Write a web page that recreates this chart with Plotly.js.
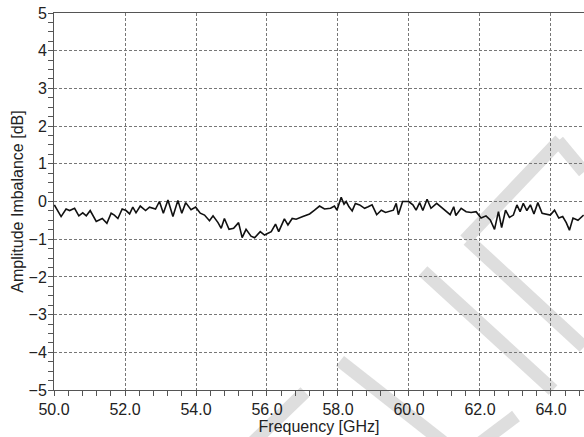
<!DOCTYPE html>
<html>
<head>
<meta charset="utf-8">
<script src="https://cdn.plot.ly/plotly-3.0.1.min.js"></script>
<style>html,body{margin:0;padding:0;background:#fff;}#chart{width:584px;height:437px;}</style>
</head>
<body>
<div id="chart"></div>
<script>
// Frequency (GHz) and amplitude imbalance (dB)
const freqGHz = [
  50.01,50.20,50.34,50.44,50.58,50.70,50.81,50.91,51.02,51.19,51.36,51.49,51.61,51.70,51.80,51.92,
  52.03,52.13,52.22,52.31,52.43,52.58,52.69,52.86,52.97,53.08,53.21,53.35,53.49,53.60,53.71,53.86,
  53.99,54.12,54.24,54.38,54.48,54.62,54.71,54.80,54.93,55.06,55.20,55.30,55.41,55.55,55.65,55.81,
  55.93,56.12,56.24,56.33,56.49,56.59,56.71,56.82,57.01,57.20,57.34,57.48,57.62,57.79,57.90,57.97,
  58.09,58.17,58.23,58.31,58.40,58.49,58.61,58.75,58.85,58.96,59.09,59.22,59.34,59.45,59.56,59.64,
  59.70,59.82,59.99,60.11,60.20,60.30,60.39,60.51,60.62,60.78,60.90,61.04,61.16,61.26,61.32,61.47,
  61.61,61.75,61.89,62.03,62.17,62.29,62.41,62.52,62.61,62.72,62.83,62.94,63.04,63.13,63.22,63.32,
  63.42,63.52,63.63,63.75,63.86,63.98,64.10,64.22,64.33,64.43,64.52,64.62,64.76,64.92
];
const imbalanceDB = [
  -0.09,-0.40,-0.20,-0.24,-0.18,-0.38,-0.30,-0.38,-0.24,-0.53,-0.45,-0.58,-0.31,-0.36,-0.45,-0.20,
  -0.24,-0.33,-0.15,-0.30,-0.12,-0.24,-0.15,-0.20,0.00,-0.31,0.04,-0.40,0.03,-0.31,-0.03,-0.22,
  -0.15,-0.31,-0.36,-0.51,-0.38,-0.56,-0.71,-0.45,-0.74,-0.71,-0.56,-0.96,-0.74,-0.92,-0.96,-0.80,
  -0.89,-0.80,-0.60,-0.80,-0.46,-0.62,-0.45,-0.47,-0.40,-0.33,-0.23,-0.12,-0.20,-0.18,-0.12,-0.23,
  0.11,-0.07,0.00,-0.14,-0.25,-0.05,-0.09,-0.18,-0.14,-0.09,-0.35,-0.23,-0.29,-0.27,-0.23,-0.05,
  -0.35,0.00,0.00,-0.09,-0.23,-0.03,-0.24,0.06,-0.18,-0.05,-0.14,-0.24,-0.35,-0.14,-0.37,-0.18,
  -0.27,-0.29,-0.27,-0.44,-0.38,-0.49,-0.74,-0.27,-0.69,-0.23,-0.42,-0.36,-0.09,-0.27,-0.05,-0.24,
  -0.09,-0.33,-0.03,-0.31,-0.33,-0.36,-0.23,-0.44,-0.40,-0.56,-0.76,-0.44,-0.50,-0.36
];
const xTitle = 'Frequency [GHz]';
const yTitle = 'Amplitude Imbalance [dB]';

const W = 584, H = 437, M = {l: 54, r: 0, t: 13, b: 47};
const pw = W - M.l - M.r, ph = H - M.t - M.b;
function P(px, py) { return [(px - M.l) / pw, 1 - (py - M.t) / ph]; }
// light grey watermark strokes (decoration)
const strokes = [
  [[423,271],[553,390]],
  [[468,240],[584,347]],
  [[465,240],[560,140]],
  [[558,141],[584,172]],
  [[340,361],[452,449]],
  [[248,447],[305,392]],
  [[475,447],[516,416]]
];
const shapes = strokes.map(s => {
  const a = P(s[0][0], s[0][1]), b = P(s[1][0], s[1][1]);
  return {type:'line', xref:'paper', yref:'paper', x0:a[0], y0:a[1], x1:b[0], y1:b[1],
          line:{color:'#dedede', width:13}, layer:'below'};
});

const axisCommon = {
  showline: true, linecolor: '#555', linewidth: 1,
  ticks: 'outside', ticklen: 5, tickcolor: '#555', tickwidth: 1,
  showgrid: true, gridcolor: '#777', gridwidth: 1, griddash: '3px,2px',
  zeroline: false,
  tickfont: {family: 'Liberation Sans, Arial, sans-serif', size: 16, color: '#222'}
};

Plotly.newPlot('chart', [{
  x: freqGHz, y: imbalanceDB, type: 'scatter', mode: 'lines',
  line: {color: '#111', width: 1.6}, hoverinfo: 'skip'
}], {
  width: W, height: H,
  margin: M,
  paper_bgcolor: '#fff', plot_bgcolor: '#fff',
  showlegend: false,
  font: {family: 'Liberation Sans, Arial, sans-serif', size: 16, color: '#222'},
  xaxis: Object.assign({}, axisCommon, {
    range: [50, 64.93], tick0: 50, dtick: 2, tickformat: '.1f', mirror: true,
    minor: {dtick: 0.4, ticks: 'outside', ticklen: 5, tickcolor: '#555', showgrid: false},
    title: {text: xTitle, font: {size: 16, color: '#222'}, standoff: 1},
    automargin: false
  }),
  yaxis: Object.assign({}, axisCommon, {
    range: [-5, 5], tick0: 0, dtick: 1,
    minor: {dtick: 0.25, ticks: 'outside', ticklen: 5, tickcolor: '#555', showgrid: false},
    title: {text: yTitle, font: {size: 16, color: '#222'}, standoff: 0},
    ticklabelstandoff: -2,
    automargin: false
  }),
  shapes: shapes
}, {staticPlot: true, displayModeBar: false});
</script>
</body>
</html>
